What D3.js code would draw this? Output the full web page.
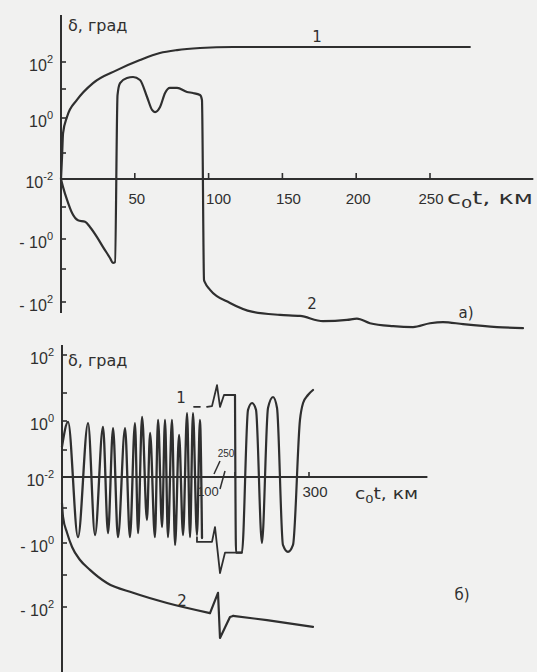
<!DOCTYPE html>
<html><head><meta charset="utf-8">
<script src="https://cdn.jsdelivr.net/npm/d3@7"></script>
<style>html,body{margin:0;padding:0;background:#f1f1f0;} svg{display:block;}</style>
</head><body><svg id="c" width="537" height="672"></svg>
<script>
// ---------- data ----------
const yTickValues = [100, 10, 1, 0.1, 0.01, -0.1, -1, -10, -100];
const yLabelValues = [100, 1, 0.01, -1, -100];
const yLabelBase = ["10", "10", "10", "- 10", "- 10"];
const yLabelExp = ["2", "0", "-2", "0", "2"];

const topXTicks = [50, 100, 150, 200, 250];
const topXLabels = ["50", "100", "150", "200", "250"];
const botXTicks = [250, 300];
const botXLabelVals = [100, 250, 300];
const botXLabels = ["100", "250", "300"];

// panel a) curve 1
const aC1X = [0, 0.7, 1.4, 4.1, 10.8, 21.7, 37.9, 53.5, 67, 78.6, 94.2, 116.5, 277];
const aC1Y = [0.01, 0.07, 0.37, 1.1, 4.2, 16.6, 50, 118, 215, 277, 330, 360, 360];
// panel a) curve 2
const aC2X = [0, 1.4, 4.1, 7.5, 11.5, 16.3, 19.6, 24.4, 28.5, 33.2, 35.2, 36.6, 38.3, 40.0, 44.7, 48.8, 53.5, 58.3, 61.7, 63.7, 67.1, 70.5, 73.8, 78.6, 85.4, 89.4, 94.2, 95.5, 96.9, 97.6, 101, 114.5, 130, 148.4, 162, 177.5, 193.8, 200.5, 209.3, 225, 238.5, 250, 258.8, 272.4, 295.4, 313];
const aC2Y = [-0.01, -0.0195, -0.056, -0.155, -0.26, -0.29, -0.42, -0.87, -1.86, -4.3, -6.3, -5.9, 6.2, 16.6, 25.5, 27.8, 21.5, 5.3, 1.9, 1.6, 2.4, 7.3, 11, 11, 7.9, 7.3, 6.2, 4.2, -21.5, -26, -43, -107, -200, -246, -265, -380, -350, -320, -440, -540, -575, -440, -405, -470, -575, -620];

// panel б) curve 1, part 0..100 km
const bC1X = [0, 4.1, 10.8, 17.6, 22.3, 27.7, 31.1, 34.5, 37.8, 42.6, 45.9, 49.3, 51.4, 54.1, 57.4, 59.5, 62.8, 64.9, 67.6, 69.6, 71.6, 74.3, 76.4, 79.1, 81.8, 84.5, 86.5, 88.5, 91.2, 93.2, 94.6];
const bC1Y = [0.13, 0.93, -0.68, 0.85, -0.59, 0.62, -0.52, 0.57, -0.68, 0.57, -0.68, 0.85, -0.52, 1.4, -0.22, 0.39, -0.68, 1.1, -0.35, 1.1, -0.68, 1.1, -1.15, 0.33, -0.59, 1.9, -0.68, 1.9, -0.59, 1.1, -0.72];
// panel б) curve 1, part 250..300 km
const bC1bX = [250, 250.7, 254.7, 258.8, 261.5, 264.2, 268.2, 272.3, 275.7, 278.4, 282.4, 285.8, 289.2, 293.9, 296, 299.3, 302.7];
const bC1bY = [8.5, -2.0, -2.0, 2.5, 4.4, 2.5, -1.0, 2.9, 7.2, 2.9, -1.15, -1.9, -1.15, 1.1, 4.4, 8.5, 12];
// panel б) curve 1, break marks
const bBreakTopDashX = [89.2, 93.2];
const bBreakTopDashY = [3.2, 3.2];
const bBreakTopX = [98, 112, 142, 160, 184, 250];
const bBreakTopY = [3.2, 3.4, 16, 3.2, 8.5, 8.5];
const bBreakBotX = [91.2, 91.2, 100, 112, 130, 160, 190, 254.7];
const bBreakBotY = [-0.68, -0.93, -0.93, -0.93, -0.35, -8.7, -2.0, -2.0];
// panel б) curve 2
const bC2X = [0, 0.7, 3.4, 6.8, 12.2, 18.9, 30.4, 48, 71, 100];
const bC2Y = [-0.07, -0.18, -0.51, -1.33, -3.4, -6.9, -17.8, -36, -75, -155];
const bC2ZigX = [100, 148, 160, 220, 238];
const bC2ZigY = [-155, -36, -930, -205, -190];
const bC2TailX = [238, 271.6, 302.7];
const bC2TailY = [-190, -257, -420];

// ---------- drawing ----------
const svg = d3.select("#c");
const ink = "#2f2f2f";
svg.append("rect").attr("width", 537).attr("height", 672).attr("fill", "#f1f1f0");

const u = v => Math.sign(v) * Math.max(0, Math.log10(Math.abs(v)) + 2);
const decades = [-4, -3, -2, -1, 0, 1, 2, 3, 4];

const yTopS = d3.scaleLinear().domain(decades).range([302, 269, 239, 207, 179, 153, 118, 89, 62]);
const yBotS = d3.scaleLinear().domain(decades).range([607, 575, 543, 508, 477, 450, 421, 393, 355]);
const yTop = v => yTopS(u(v));
const yBot = v => yBotS(u(v));
const xTop = d3.scaleLinear().domain([0, 250]).range([61, 430]);
const xBot = d3.scaleLinear().domain([0, 100, 250, 300]).range([62, 210, 235, 309]);

function drawLine(xs, ys, X, Y, curve, w) {
  const gen = d3.line().x(d => xs(d[0])).y(d => ys(d[1])).curve(curve);
  svg.append("path").attr("d", gen(d3.zip(X, Y)))
    .attr("fill", "none").attr("stroke", ink).attr("stroke-width", w || 2.2)
    .attr("stroke-linejoin", "round").attr("stroke-linecap", "round");
}

function yAxis(xs, ys, yStart, yEnd) {
  const ax = xs(0);
  svg.append("line").attr("x1", ax).attr("x2", ax).attr("y1", yStart).attr("y2", yEnd)
    .attr("stroke", ink).attr("stroke-width", 2);
  yTickValues.forEach(v => {
    svg.append("line").attr("x1", ax).attr("x2", ax + 5).attr("y1", ys(v)).attr("y2", ys(v))
      .attr("stroke", ink).attr("stroke-width", 1.6);
  });
  yLabelValues.forEach((v, i) => {
    const t = svg.append("text").attr("x", ax - 8).attr("y", ys(v) + 9)
      .attr("text-anchor", "end").attr("font-family", "Liberation Sans, Arial, sans-serif")
      .attr("font-size", 16).attr("fill", ink);
    t.append("tspan").text(yLabelBase[i]);
    t.append("tspan").attr("dy", -8).attr("font-size", 11).text(yLabelExp[i]);
  });
}

function axisTitle(x, y) {
  svg.append("text").attr("x", x).attr("y", y).attr("font-family", "DejaVu Sans, sans-serif")
    .attr("font-size", 16).attr("fill", ink).text("δ, град");
}

function xTitle(x, y, size, len) {
  const t = svg.append("text").attr("x", x).attr("y", y).attr("font-family", "DejaVu Sans, sans-serif")
    .attr("font-size", size).attr("fill", ink)
    .attr("textLength", len).attr("lengthAdjust", "spacingAndGlyphs");
  t.append("tspan").text("c");
  t.append("tspan").attr("dy", 4).attr("font-size", size * 0.7).text("0");
  t.append("tspan").attr("dy", -4).text("t, км");
}

function label(x, y, txt, size) {
  svg.append("text").attr("x", x).attr("y", y).attr("text-anchor", "middle")
    .attr("font-family", "DejaVu Sans, sans-serif").attr("font-size", size || 15)
    .attr("fill", ink).text(txt);
}

// ---- panel a) ----
yAxis(xTop, yTop, 15, 313);
axisTitle(68, 31);
svg.append("line").attr("x1", xTop(0)).attr("x2", xTop(320)).attr("y1", yTop(0.01)).attr("y2", yTop(0.01))
  .attr("stroke", ink).attr("stroke-width", 2);
const topLblDx = [2, 10, 6, 2, 1];
topXTicks.forEach((v, i) => {
  svg.append("line").attr("x1", xTop(v)).attr("x2", xTop(v)).attr("y1", yTop(0.01)).attr("y2", yTop(0.01) - 6)
    .attr("stroke", ink).attr("stroke-width", 1.6);
  svg.append("text").attr("x", xTop(v) + topLblDx[i]).attr("y", yTop(0.01) + 25).attr("text-anchor", "middle")
    .attr("font-family", "Liberation Sans, Arial, sans-serif").attr("font-size", 15).attr("fill", ink)
    .text(topXLabels[i]);
});
xTitle(447, yTop(0.01) + 25, 17, 86);
drawLine(xTop, yTop, aC1X, aC1Y, d3.curveMonotoneX);
drawLine(xTop, yTop, aC2X, aC2Y, d3.curveMonotoneX);
label(317, 42, "1");
label(312, 309, "2");
label(466, 318, "а)");

// ---- panel б) ----
yAxis(xBot, yBot, 345, 672);
axisTitle(68, 366);
svg.append("line").attr("x1", xBot(0)).attr("x2", xBot(380)).attr("y1", yBot(0.01)).attr("y2", yBot(0.01))
  .attr("stroke", ink).attr("stroke-width", 2);
botXTicks.forEach(v => {
  svg.append("line").attr("x1", xBot(v)).attr("x2", xBot(v)).attr("y1", yBot(0.01)).attr("y2", yBot(0.01) - 5)
    .attr("stroke", ink).attr("stroke-width", 1.6);
});
// tick labels of the broken axis
const bLblDx = [-2, -9, 6], bLblDy = [19, -20, 20], bLblSize = [13, 10, 15];
botXLabelVals.forEach((v, i) => {
  svg.append("text").attr("x", xBot(v) + bLblDx[i]).attr("y", yBot(0.01) + bLblDy[i]).attr("text-anchor", "middle")
    .attr("font-family", "Liberation Sans, Arial, sans-serif").attr("font-size", bLblSize[i]).attr("fill", ink)
    .text(botXLabels[i]);
});
// axis break marks
const y0 = yBot(0.01);
svg.append("line").attr("x1", xBot(100) + 4).attr("y1", y0 - 3).attr("x2", xBot(100) + 10).attr("y2", y0 - 16)
  .attr("stroke", ink).attr("stroke-width", 1.5);
svg.append("line").attr("x1", xBot(100) + 10).attr("y1", y0 + 12).attr("x2", xBot(100) + 15).attr("y2", y0 - 6)
  .attr("stroke", ink).attr("stroke-width", 1.5);
xTitle(355, y0 + 22, 15, 63);

drawLine(xBot, yBot, bC1X, bC1Y, d3.curveMonotoneX, 2.3);
drawLine(xBot, yBot, bC1bX, bC1bY, d3.curveMonotoneX);
drawLine(xBot, yBot, bBreakTopDashX, bBreakTopDashY, d3.curveLinear, 1.8);
drawLine(xBot, yBot, bBreakTopX, bBreakTopY, d3.curveLinear, 1.8);
drawLine(xBot, yBot, bBreakBotX, bBreakBotY, d3.curveLinear, 1.8);
drawLine(xBot, yBot, bC2X, bC2Y, d3.curveMonotoneX);
drawLine(xBot, yBot, bC2ZigX, bC2ZigY, d3.curveLinear);
drawLine(xBot, yBot, bC2TailX, bC2TailY, d3.curveLinear);
label(181, 403, "1");
label(182, 606, "2");
label(462, 600, "б)");
</script></body></html>
